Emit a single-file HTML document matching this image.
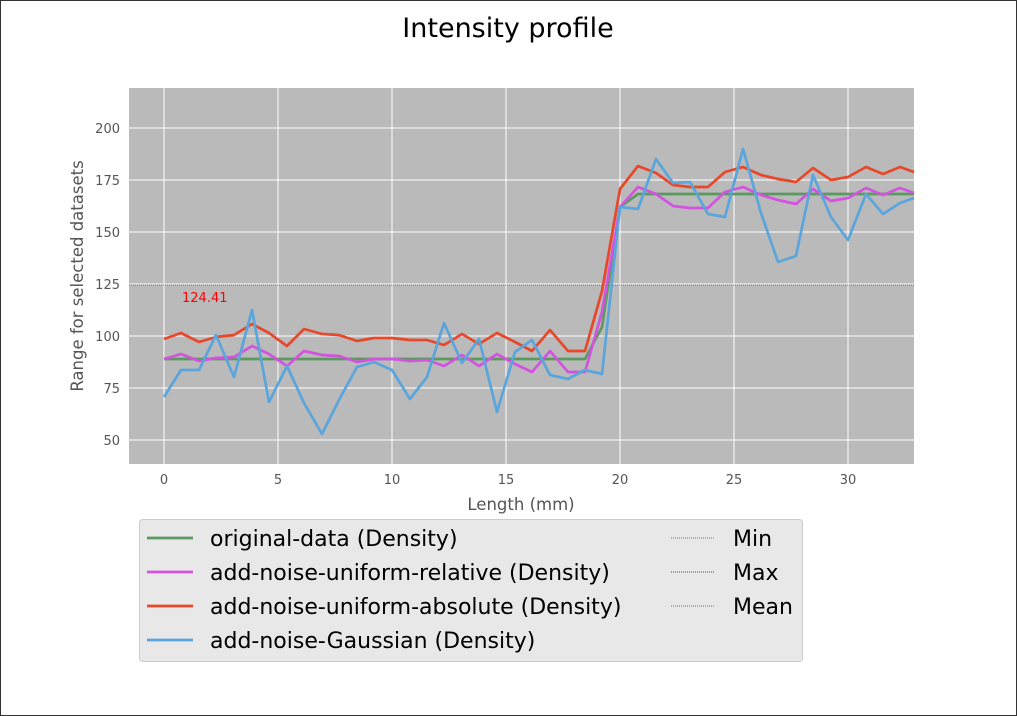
<!DOCTYPE html><html><head><style>body{margin:0;background:#fff}svg{display:block}</style></head><body>
<svg width="1017" height="716" xmlns="http://www.w3.org/2000/svg" font-family="DejaVu Sans, Liberation Sans, sans-serif">
<rect x="0.5" y="0.5" width="1016" height="715" fill="#fff" stroke="#333"/>
<text x="508" y="37" font-size="27" text-anchor="middle" fill="#000">Intensity profile</text>
<rect x="129" y="88" width="785" height="376" fill="#bababa"/>
<g stroke="#fff" stroke-width="1">
<line x1="164" y1="88" x2="164" y2="464"/><line x1="278" y1="88" x2="278" y2="464"/><line x1="392" y1="88" x2="392" y2="464"/><line x1="506" y1="88" x2="506" y2="464"/><line x1="620" y1="88" x2="620" y2="464"/><line x1="734" y1="88" x2="734" y2="464"/><line x1="848" y1="88" x2="848" y2="464"/>
<line x1="129" y1="128" x2="914" y2="128"/><line x1="129" y1="180" x2="914" y2="180"/><line x1="129" y1="232" x2="914" y2="232"/><line x1="129" y1="284" x2="914" y2="284"/><line x1="129" y1="336" x2="914" y2="336"/><line x1="129" y1="388" x2="914" y2="388"/><line x1="129" y1="440" x2="914" y2="440"/>
</g>
<line x1="129" y1="285" x2="914" y2="285" stroke="#f00" stroke-width="0.8" stroke-dasharray="1,1"/>
<text x="182" y="302" font-size="13" fill="#f00">124.41</text>
<g fill="none" stroke-width="2.7" stroke-linejoin="round">
<polyline stroke="#5a9a5e" points="164,359 585,359 602,327 620,207 638,194 914,194"/>
<polyline stroke="#d352e0" points="164,359 181,354 199,361 216,358 234,357 252,346 269,354 287,366 304,351 322,355 339,356 357,362 374,359 392,359 410,361 427,360 444,366 462,355 479,366 497,354 515,364 532,372 550,351 568,372 585,372 602,312 620,207 638,187 656,194 673,206 690,208 708,208 725,192 743,187 761,195 778,200 796,204 813,189 831,201 848,198 866,188 883,195 900,188 914,193"/>
<polyline stroke="#e8472a" points="164,339 181,333 199,342 216,337 234,335 252,324 269,333 287,346 304,329 322,334 339,335 357,341 374,338 392,338 410,340 427,340 444,345 462,334 479,344 497,333 515,342 532,351 550,330 568,351 585,351 602,291 620,189 638,166 656,173 673,185 690,187 708,187 725,172 743,167 761,175 778,179 796,182 813,168 831,180 848,177 866,167 883,174 900,167 914,172"/>
<polyline stroke="#5aa5dc" points="164,397 181,370 199,370 216,335 234,377 252,310 269,402 287,366 304,403 322,434 339,400 357,367 374,362 392,370 410,399 427,377 444,323 462,363 479,339 497,412 515,352 532,340 550,375 568,379 585,370 602,374 620,207 638,209 656,159 673,183 690,182 708,214 725,217 743,149 761,213 778,262 796,256 813,175 831,217 848,240 866,194 883,214 900,203 914,198"/>
</g>
<g font-size="13" fill="#555" text-anchor="middle">
<text x="164" y="484">0</text><text x="278" y="484">5</text><text x="392" y="484">10</text><text x="506" y="484">15</text><text x="620" y="484">20</text><text x="734" y="484">25</text><text x="848" y="484">30</text>
</g>
<g font-size="13" fill="#555" text-anchor="end">
<text x="120" y="133">200</text><text x="120" y="185">175</text><text x="120" y="237">150</text><text x="120" y="289">125</text><text x="120" y="341">100</text><text x="120" y="393">75</text><text x="120" y="445">50</text>
</g>
<text x="521" y="510" font-size="16.5" fill="#555" text-anchor="middle">Length (mm)</text>
<text transform="translate(83,276) rotate(-90)" font-size="16.5" fill="#555" text-anchor="middle">Range for selected datasets</text>
<rect x="139.5" y="519.5" width="663" height="142" rx="3" fill="#e8e8e8" stroke="#ccc"/>
<g stroke-width="2.7">
<line x1="147" y1="538" x2="193" y2="538" stroke="#5a9a5e"/>
<line x1="147" y1="572" x2="193" y2="572" stroke="#d352e0"/>
<line x1="147" y1="606" x2="193" y2="606" stroke="#e8472a"/>
<line x1="147" y1="640" x2="193" y2="640" stroke="#5aa5dc"/>
</g>
<g stroke-width="1" stroke-dasharray="1,1">
<line x1="671" y1="538" x2="715" y2="538" stroke="#3a3"/>
<line x1="671" y1="572" x2="715" y2="572" stroke="#33f"/>
<line x1="671" y1="606" x2="715" y2="606" stroke="#f33"/>
</g>
<g font-size="22" fill="#000">
<text x="210" y="546">original-data (Density)</text>
<text x="210" y="580">add-noise-uniform-relative (Density)</text>
<text x="210" y="614">add-noise-uniform-absolute (Density)</text>
<text x="210" y="648">add-noise-Gaussian (Density)</text>
<text x="733" y="546">Min</text>
<text x="733" y="580">Max</text>
<text x="733" y="614">Mean</text>
</g>
</svg>
</body></html>
